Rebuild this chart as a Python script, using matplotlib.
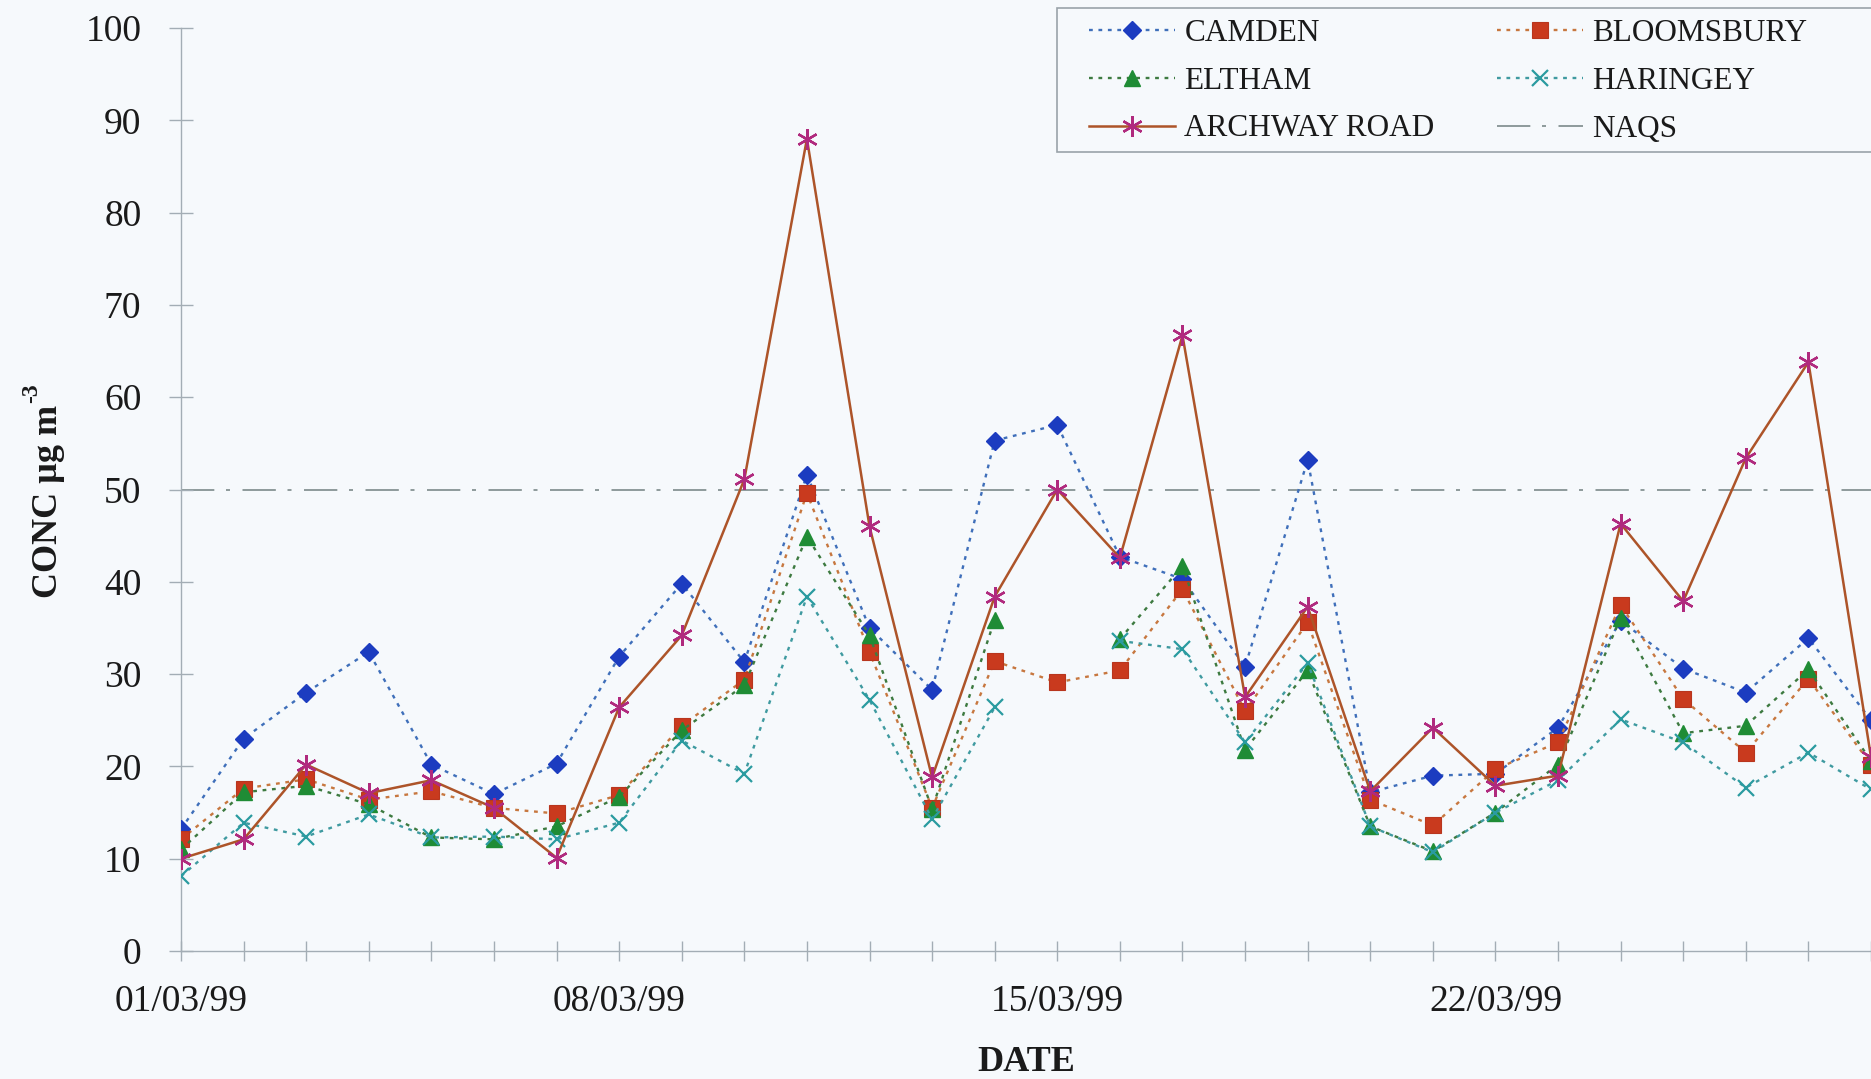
import numpy as np
import matplotlib
matplotlib.use("Agg")
import matplotlib.pyplot as plt
from matplotlib.patches import Rectangle

nan = np.nan

# Daily NO2 concentrations, 1-28 March 1999 (µg m-3)
days = list(range(1, 29))
tick_dates = {1: "01/03/99", 8: "08/03/99", 15: "15/03/99", 22: "22/03/99"}

camden = [13.2, 23.0, 28.0, 32.4, 20.2, 17.0, 20.3, 31.9, 39.8, 31.3, 51.6, 35.0, 28.3, 55.3,
          57.0, 42.7, 40.3, 30.8, 53.2, 17.2, 19.0, 19.2, 24.2, 35.8, 30.6, 28.0, 33.9, 25.0]
bloomsbury = [12.1, 17.6, 18.6, 16.4, 17.3, 15.5, 14.9, 16.9, 24.4, 29.4, 49.6, 32.4, 15.5, 31.4,
              29.1, 30.4, 39.2, 26.0, 35.6, 16.4, 13.6, 19.7, 22.6, 37.5, 27.3, 21.5, 29.5, 20.2]
eltham = [11.0, 17.2, 17.9, 15.9, 12.3, 12.1, 13.5, 16.7, 23.9, 28.8, 44.9, 34.2, 15.4, 35.9,
          nan, 33.8, 41.7, 21.8, 30.4, 13.5, 10.8, 15.0, 20.2, 36.1, 23.6, 24.4, 30.5, 20.6]
haringey = [8.1, 13.9, 12.4, 14.8, 12.3, 12.4, 12.1, 13.9, 22.8, 19.2, 38.4, 27.2, 14.3, 26.4,
            nan, 33.6, 32.7, 22.6, 31.2, 13.5, 10.7, 15.0, 18.5, 25.1, 22.6, 17.7, 21.5, 17.5]
archway = [10.0, 12.1, 20.2, 17.1, 18.5, 15.5, 10.1, 26.4, 34.2, 51.1, 88.0, 46.0, 18.8, 38.4,
           50.0, 42.6, 66.7, 27.5, 37.3, 17.3, 24.2, 17.9, 19.0, 46.3, 37.9, 53.4, 63.8, 21.0]
naqs = 50

BG = "#f6f9fc"
W, H = 1871, 1079

plt.rcParams["font.family"] = ["Liberation Serif", "DejaVu Serif"]

fig = plt.figure(figsize=(W / 100, H / 100), dpi=100, facecolor=BG)
left = 181 / W
bottom = 1 - 951 / H
top = 1 - 28 / H
ax = fig.add_axes([left, bottom, 1 - left, top - bottom], facecolor=BG)

dot = (0, (1.6, 2.4))
h_naqs = ax.axhline(naqs, color="#7c8a8a", lw=1.2, dashes=(20, 7, 2.4, 7.5), zorder=1)

h_camden, = ax.plot(days, camden, ls=dot, lw=1.7, color="#3f6fba",
                    marker="D", ms=9.5, mfc="#1c3cc0", mec="#1c3cc0", zorder=3)
h_bloom, = ax.plot(days, bloomsbury, ls=dot, lw=1.7, color="#c7773f",
                   marker="s", ms=12, mfc="#c93a1e", mec="#b8361e", mew=0.8, zorder=3)
h_eltham, = ax.plot(days, eltham, ls=dot, lw=1.7, color="#3d7a40",
                    marker="^", ms=12, mfc="#1f8c35", mec="#1f8c35", zorder=3)
h_haring, = ax.plot(days, haringey, ls=dot, lw=1.7, color="#3f9aa0",
                    marker="x", ms=12, mec="#2a9ba0", mew=1.6, zorder=3)
h_arch, = ax.plot(days, archway, ls="-", lw=1.8, color="#ad5429",
                  marker=(6, 2, 0), ms=15, mec="#b02a7e", mew=1.7, zorder=4)

ax.set_xlim(1, 28)
ax.set_ylim(0, 100)
ax.set_yticks(range(0, 101, 10))
ax.set_xticks(days)
ax.set_xticklabels([tick_dates.get(d, "") for d in days])

for s in ("top", "right"):
    ax.spines[s].set_visible(False)
for s in ("left", "bottom"):
    ax.spines[s].set_color("#a3adb5")
    ax.spines[s].set_linewidth(1.0)

ax.tick_params(axis="y", direction="inout", length=17, width=1.0, color="#a3adb5",
               labelsize=27, pad=20, labelcolor="#1a1a1a")
ax.tick_params(axis="x", direction="inout", length=14, width=1.0, color="#a3adb5",
               labelsize=27, pad=17, labelcolor="#1a1a1a")

# Axis titles
fig.text(1026 / W, 1 - 1071 / H, "DATE", ha="center", va="baseline",
         weight="bold", size=26, color="#1a1a1a")
ylab = fig.text(57 / W, 1 - 598 / H, "CONC µg m", rotation=90, rotation_mode="anchor",
                ha="left", va="baseline", weight="bold", size=26, color="#1a1a1a")
fig.canvas.draw()
bb = ylab.get_window_extent()
fig.text(37 / W, (bb.y1 + 2) / H, "-3", rotation=90, rotation_mode="anchor",
         ha="left", va="baseline", weight="bold", size=17, color="#1a1a1a")

# Legend frame and entries
fig.add_artist(Rectangle((1057 / W, 1 - 152 / H), 0.6, (152 - 8) / H,
                         transform=fig.transFigure, facecolor=BG,
                         edgecolor="#9aa3aa", lw=1.2, zorder=1))
handles = [h_camden, h_eltham, h_arch, h_bloom, h_haring, h_naqs]
labels = ["CAMDEN", "ELTHAM", "ARCHWAY ROAD", "BLOOMSBURY", "HARINGEY", "NAQS"]
fig.legend(handles, labels, loc="upper left", bbox_to_anchor=(1089 / W, 1 - 19 / H),
           ncol=2, frameon=False, fontsize=22.5, borderpad=0, borderaxespad=0,
           handlelength=2.75, handletextpad=0.3, columnspacing=2.0,
           labelspacing=0.6, numpoints=1, labelcolor="#1a1a1a")

fig.savefig("out.png", dpi=100, facecolor=BG)
